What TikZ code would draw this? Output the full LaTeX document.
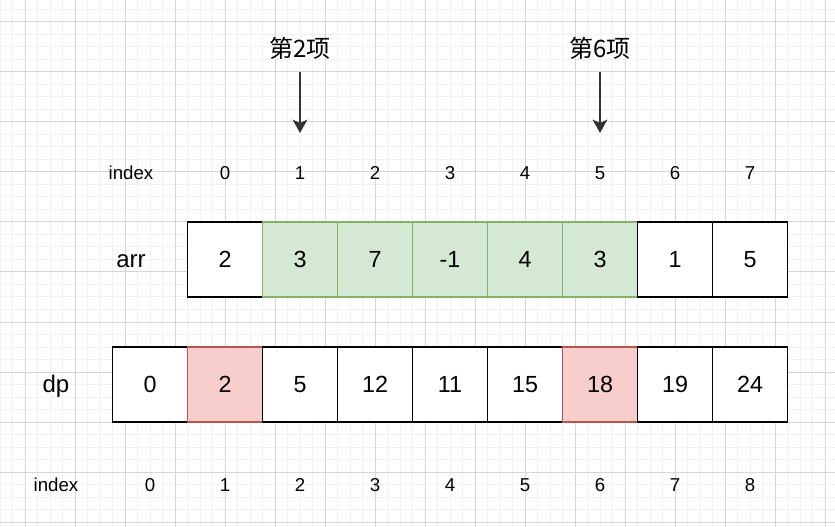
\documentclass[tikz,border=0pt]{standalone}
\usepackage{fontspec}
\setmainfont{Liberation Sans}
\newfontfamily\cjk{Noto Sans CJK SC}
\usetikzlibrary{arrows.meta}
\definecolor{gmin}{RGB}{241,241,241}
\definecolor{gmaj}{RGB}{214,214,214}
\definecolor{gfill}{HTML}{D5E8D4}
\definecolor{gline}{HTML}{82B366}
\definecolor{rfill}{HTML}{F8CECC}
\definecolor{rline}{HTML}{B85450}
\definecolor{arrc}{HTML}{333333}
\begin{document}
\begin{tikzpicture}[x=0.75pt,y=-0.75pt,
  cell/.style={draw=black,line width=1.1pt,fill=white,minimum width=56.25pt,minimum height=56.25pt,inner sep=0pt,font=\fontsize{17.5}{18}\selectfont},
  gcell/.style={cell,fill=gfill,draw=gline},
  rcell/.style={cell,fill=rfill,draw=rline},
  idx/.style={inner sep=0pt,font=\fontsize{14}{15}\selectfont},
  rowlab/.style={inner sep=0pt,font=\fontsize{18}{19}\selectfont},
  ttl/.style={inner sep=0pt,font=\cjk\fontsize{18}{19}\selectfont},
  marker/.style={draw=arrc,line width=1.5pt,-{Stealth[length=10pt,width=11pt,inset=2.5pt]}}]
\useasboundingbox (0,0) rectangle (835,527);
\fill[white] (0,0) rectangle (835,527);
% grid
\foreach \i in {0,...,67} \draw[gmin,line width=0.75pt] ({\i*12.5},0) -- ({\i*12.5},527);
\foreach \j in {-1,...,41} \draw[gmin,line width=0.75pt] (0,{22+\j*12.5}) -- (835,{22+\j*12.5});
\foreach \i in {0,...,16} \draw[gmaj,line width=0.75pt] ({25+\i*50},0) -- ({25+\i*50},527);
\foreach \j in {0,...,10} \draw[gmaj,line width=0.75pt] (0,{22+\j*50}) -- (835,{22+\j*50});
% titles and markers
\node[ttl] (t2) at (300,48) {第2项};
\node[ttl] (t6) at (600,48) {第6项};
\coordinate (s2) at (300,72);
\coordinate (e2) at (300,133);
\coordinate (s6) at (600,72);
\coordinate (e6) at (600,133);
\draw[marker] (s2) -- (e2);
\draw[marker] (s6) -- (e6);
% top index
\node[idx] (ti) at (131,173) {index};
\foreach \k in {0,...,7} \node[idx] (ti\k) at ({225+\k*75},173) {\k};
% arr row
\node[rowlab] (arrlab) at (131,261) {arr};
\node[cell]  (a0) at (225,259.5) {2};
\node[gcell] (a1) at (300,259.5) {3};
\node[gcell] (a2) at (375,259.5) {7};
\node[gcell] (a3) at (450,259.5) {-1};
\node[gcell] (a4) at (525,259.5) {4};
\node[gcell] (a5) at (600,259.5) {3};
\node[cell]  (a6) at (675,259.5) {1};
\node[cell]  (a7) at (750,259.5) {5};
% dp row
\node[rowlab] (dplab) at (56,386) {dp};
\node[cell]  (d0) at (150,384.5) {0};
\node[rcell] (d1) at (225,384.5) {2};
\node[cell]  (d2) at (300,384.5) {5};
\node[cell]  (d3) at (375,384.5) {12};
\node[cell]  (d4) at (450,384.5) {11};
\node[cell]  (d5) at (525,384.5) {15};
\node[rcell] (d6) at (600,384.5) {18};
\node[cell]  (d7) at (675,384.5) {19};
\node[cell]  (d8) at (750,384.5) {24};
% bottom index
\node[idx] (bi) at (56,485) {index};
\foreach \k in {0,...,8} \node[idx] (bi\k) at ({150+\k*75},485) {\k};
\end{tikzpicture}
\end{document}
